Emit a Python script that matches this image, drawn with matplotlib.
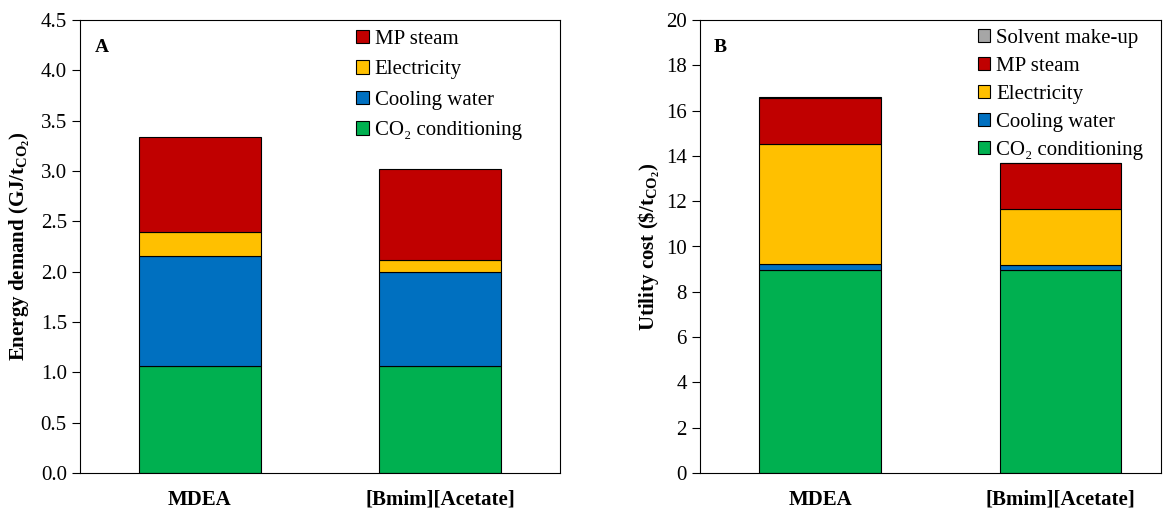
import matplotlib
matplotlib.use("Agg")
import matplotlib.pyplot as plt
import numpy as np

plt.rcParams['font.family'] = ['Liberation Serif', 'DejaVu Serif']
plt.rcParams['mathtext.fontset'] = 'custom'
plt.rcParams['mathtext.rm'] = 'Liberation Serif'
plt.rcParams['mathtext.bf'] = 'Liberation Serif:bold'
plt.rcParams['mathtext.it'] = 'Liberation Serif:italic'

categories = ["MDEA", "[Bmim][Acetate]"]

# Panel A: energy demand (GJ/t CO2)
energy_co2 = [1.06, 1.06]
energy_cw = [1.095, 0.94]
energy_elec = [0.24, 0.115]
energy_steam = [0.94, 0.905]

# Panel B: utility cost ($/t CO2)
cost_co2 = [8.95, 8.95]
cost_cw = [0.26, 0.22]
cost_elec = [5.30, 2.50]
cost_steam = [2.05, 2.00]
cost_solvent = [0.05, 0.02]

colors = {
    "CO₂ conditioning": "#00B050",
    "Cooling water": "#0070C0",
    "Electricity": "#FFC000",
    "MP steam": "#C00000",
    "Solvent make-up": "#A6A6A6",
}

FS = 15

fig = plt.figure(figsize=(11.68, 5.08), dpi=100)
axA = fig.add_axes([80/1168, 1-473/508, 480/1168, 453/508])
axB = fig.add_axes([700/1168, 1-473/508, 461/1168, 453/508])

x = np.arange(len(categories))
w = 0.505

def stack(ax, series):
    bottom = np.zeros(len(categories))
    for name, vals in series:
        ax.bar(x, vals, w, bottom=bottom, color=colors[name], edgecolor='black',
               linewidth=0.8, label=name)
        bottom += np.array(vals)

stack(axA, [("CO₂ conditioning", energy_co2), ("Cooling water", energy_cw),
            ("Electricity", energy_elec), ("MP steam", energy_steam)])
stack(axB, [("CO₂ conditioning", cost_co2), ("Cooling water", cost_cw),
            ("Electricity", cost_elec), ("MP steam", cost_steam),
            ("Solvent make-up", cost_solvent)])

axA.set_ylim(0, 4.5)
axA.set_yticks(np.arange(0, 4.51, 0.5))
axA.set_yticklabels([f"{v:.1f}" for v in np.arange(0, 4.51, 0.5)])
axA.set_xlim(-0.5, 1.5)
axA.set_ylabel(r"Energy demand (GJ/t$_{\mathregular{CO_2}}$)", fontsize=FS, fontweight='bold',
               labelpad=6)

axB.set_ylim(0, 20)
axB.set_yticks(np.arange(0, 21, 2))
axB.set_xlim(-0.5, 1.42)
axB.set_ylabel(r"Utility cost (\$/t$_{\mathregular{CO_2}}$)", fontsize=FS, fontweight='bold',
               labelpad=3)

legend_pos = {axA: (0.575, 0.978, 0.55), axB: (0.602, 0.98, 0.43)}

for ax, letter in [(axA, "A"), (axB, "B")]:
    ax.set_xticks(x)
    ax.set_xticklabels(categories, fontsize=FS, fontweight='bold')
    ax.tick_params(axis='x', length=0, pad=12)
    ax.tick_params(axis='y', labelsize=FS, direction='out', length=6, width=0.8)
    for s in ax.spines.values():
        s.set_linewidth(0.8)
    ax.text(0.03, 0.94, letter, transform=ax.transAxes, fontsize=FS - 1, fontweight='bold',
            va='center', ha='left')
    h, l = ax.get_legend_handles_labels()
    lx, ly, ls = legend_pos[ax]
    ax.legend(h[::-1], l[::-1], loc='upper left', bbox_to_anchor=(lx, ly), frameon=False,
              fontsize=FS, handlelength=0.6, handleheight=0.6, handletextpad=0.3,
              labelspacing=ls, borderaxespad=0, borderpad=0)

fig.savefig("out.png", dpi=100)
